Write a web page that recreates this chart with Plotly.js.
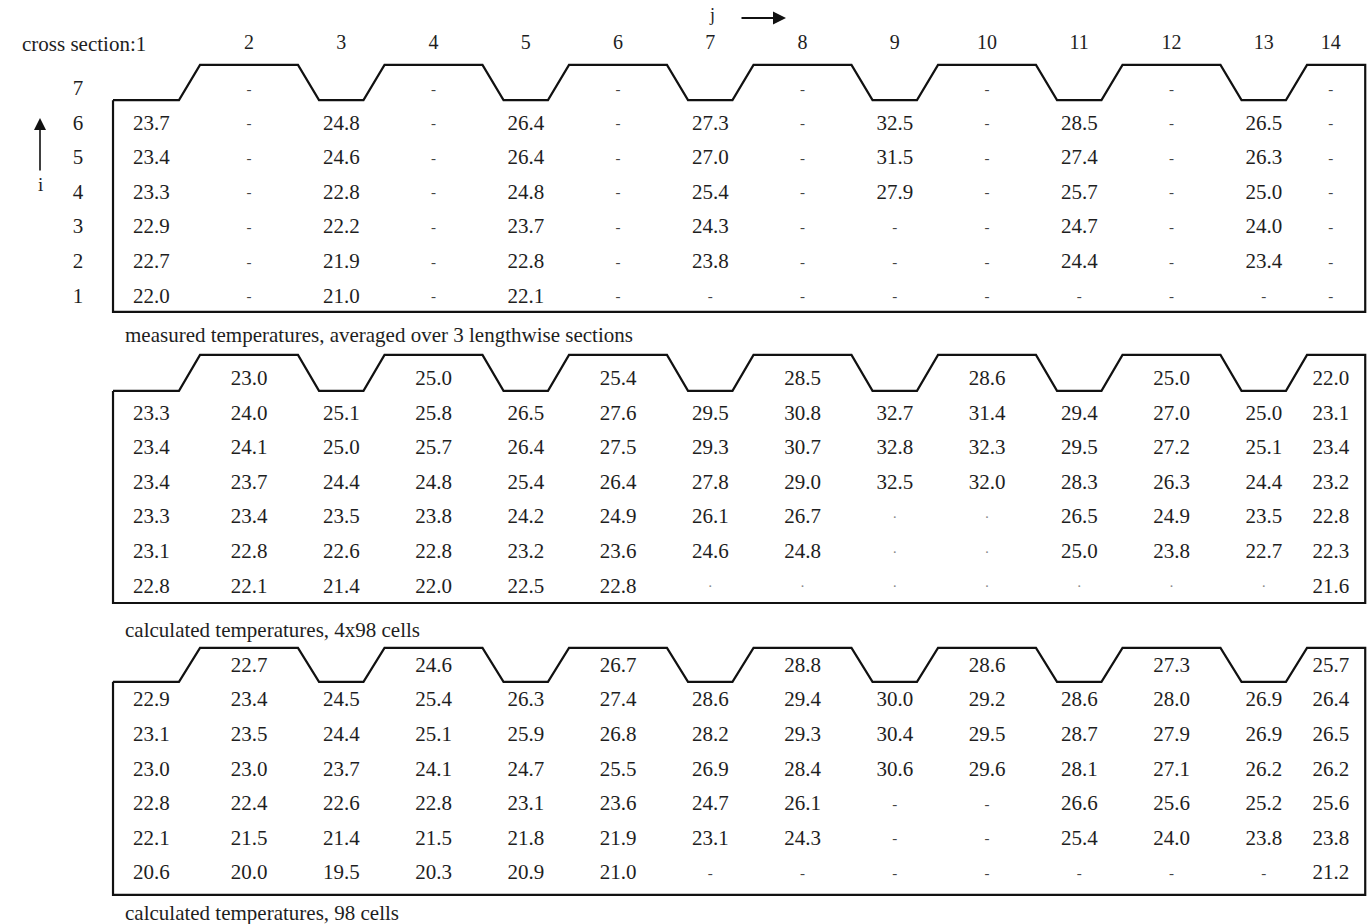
<!DOCTYPE html>
<html><head><meta charset="utf-8">
<script src="https://cdn.plot.ly/plotly-3.0.1.min.js"></script>
<style>html,body{margin:0;padding:0;background:#fff}</style>
</head><body><div id="chart" style="width:1372px;height:924px"></div>
<script>
// ---------------- DATA ----------------
const crossSections = [1,2,3,4,5,6,7,8,9,10,11,12,13,14];
const rowLabels = [7,6,5,4,3,2,1];
const captions = [
  "measured temperatures, averaged over 3 lengthwise sections",
  "calculated temperatures, 4x98 cells",
  "calculated temperatures, 98 cells"
];
// rows from i=7 (top) to i=1 (bottom); null = outside section, "-" = no value
const measured = [
  [null,"-",null,"-",null,"-",null,"-",null,"-",null,"-",null,"-"],
  [23.7,"-",24.8,"-",26.4,"-",27.3,"-",32.5,"-",28.5,"-",26.5,"-"],
  [23.4,"-",24.6,"-",26.4,"-",27.0,"-",31.5,"-",27.4,"-",26.3,"-"],
  [23.3,"-",22.8,"-",24.8,"-",25.4,"-",27.9,"-",25.7,"-",25.0,"-"],
  [22.9,"-",22.2,"-",23.7,"-",24.3,"-","-","-",24.7,"-",24.0,"-"],
  [22.7,"-",21.9,"-",22.8,"-",23.8,"-","-","-",24.4,"-",23.4,"-"],
  [22.0,"-",21.0,"-",22.1,"-","-","-","-","-","-","-","-","-"]
];
const calc4x98 = [
  [null,23.0,null,25.0,null,25.4,null,28.5,null,28.6,null,25.0,null,22.0],
  [23.3,24.0,25.1,25.8,26.5,27.6,29.5,30.8,32.7,31.4,29.4,27.0,25.0,23.1],
  [23.4,24.1,25.0,25.7,26.4,27.5,29.3,30.7,32.8,32.3,29.5,27.2,25.1,23.4],
  [23.4,23.7,24.4,24.8,25.4,26.4,27.8,29.0,32.5,32.0,28.3,26.3,24.4,23.2],
  [23.3,23.4,23.5,23.8,24.2,24.9,26.1,26.7,"-","-",26.5,24.9,23.5,22.8],
  [23.1,22.8,22.6,22.8,23.2,23.6,24.6,24.8,"-","-",25.0,23.8,22.7,22.3],
  [22.8,22.1,21.4,22.0,22.5,22.8,"-","-","-","-","-","-","-",21.6]
];
const calc98 = [
  [null,22.7,null,24.6,null,26.7,null,28.8,null,28.6,null,27.3,null,25.7],
  [22.9,23.4,24.5,25.4,26.3,27.4,28.6,29.4,30.0,29.2,28.6,28.0,26.9,26.4],
  [23.1,23.5,24.4,25.1,25.9,26.8,28.2,29.3,30.4,29.5,28.7,27.9,26.9,26.5],
  [23.0,23.0,23.7,24.1,24.7,25.5,26.9,28.4,30.6,29.6,28.1,27.1,26.2,26.2],
  [22.8,22.4,22.6,22.8,23.1,23.6,24.7,26.1,"-","-",26.6,25.6,25.2,25.6],
  [22.1,21.5,21.4,21.5,21.8,21.9,23.1,24.3,"-","-",25.4,24.0,23.8,23.8],
  [20.6,20.0,19.5,20.3,20.9,21.0,"-","-","-","-","-","-","-",21.2]
];

// ---------------- STYLE / GEOMETRY ----------------
const FONT = "Liberation Serif, 'DejaVu Serif', serif";
const INK = "#1e1e1e";
const G = {pxPerCol:92.25, col2Px:249, pxPerRow:34.6, W:1372, H:924,
           left:0.526, right:14.10, crestHalf:0.531, troughHalf:0.241};
const slopeW = 1 - G.crestHalf - G.troughHalf;
const PANELS = [
  {data:measured, off:17.11, crest:7.72, trough:6.70, bottom:0.58, mark:"-", markSize:15, markColor:"#444", capY:17.02},
  {data:calc4x98, off:8.728, crest:7.72, trough:6.68, bottom:0.55, mark:"·", markSize:15, markColor:"#888", capY:8.50},
  {data:calc98,   off:0.439, crest:7.54, trough:6.56, bottom:0.40, mark:"-", markSize:15, markColor:"#444", capY:0.32}
];
const xOfPx = px => 2 + (px - G.col2Px) / G.pxPerCol;
const yOfPx = py => (G.H - py) / G.pxPerRow;
const n = crossSections.length;
function colX(j){
  if (j === 1) return (G.left + 1 + G.troughHalf + slopeW/2) / 2;
  if (j === n) return (n - 1 + G.troughHalf + slopeW/2 + G.right) / 2;
  return j;
}
function outline(p){
  const xs=[], ys=[];
  const T=p.off+p.trough, C=p.off+p.crest, B=p.off+p.bottom;
  xs.push(G.left); ys.push(T);
  for (let j=1; j<n; j+=2){
    xs.push(j+G.troughHalf); ys.push(T);
    xs.push(j+1-G.crestHalf); ys.push(C);
    if (j+1 < n){
      xs.push(j+1+G.crestHalf); ys.push(C);
      xs.push(j+2-G.troughHalf); ys.push(T);
    }
  }
  xs.push(G.right); ys.push(C);
  xs.push(G.right); ys.push(B);
  xs.push(G.left); ys.push(B);
  xs.push(G.left); ys.push(T);
  return {x:xs, y:ys, mode:"lines", line:{color:"#111", width:2.2}, hoverinfo:"skip"};
}

const traces = [];
PANELS.forEach(p => {
  traces.push(outline(p));
  const vx=[],vy=[],vt=[],mx=[],my=[],mt=[];
  p.data.forEach((row, r) => {
    const i = rowLabels[r];
    row.forEach((v, c) => {
      const j = crossSections[c];
      if (typeof v === "number"){ vx.push(colX(j)); vy.push(p.off+i); vt.push(v.toFixed(1)); }
      else if (v === "-"){ mx.push(colX(j)); my.push(p.off+i); mt.push(p.mark); }
    });
  });
  traces.push({x:vx, y:vy, text:vt, mode:"text", textposition:"middle center",
    textfont:{family:FONT, size:21, color:INK}, hoverinfo:"skip", cliponaxis:false});
  traces.push({x:mx, y:my, text:mt, mode:"text", textposition:"middle center",
    textfont:{family:FONT, size:p.markSize, color:p.markColor}, hoverinfo:"skip", cliponaxis:false});
});
// row labels (first panel)
traces.push({x:rowLabels.map(()=>xOfPx(78)), y:rowLabels.map(i=>PANELS[0].off+i),
  text:rowLabels.map(String), mode:"text", textposition:"middle center",
  textfont:{family:FONT, size:21, color:INK}, hoverinfo:"skip", cliponaxis:false});
// cross-section header numbers 2..14
const hdr = crossSections.slice(1);
traces.push({x:hdr.map(colX), y:hdr.map(()=>yOfPx(44)), text:hdr.map(String), mode:"text",
  textposition:"middle center", textfont:{family:FONT, size:20, color:INK}, hoverinfo:"skip", cliponaxis:false});

const annotations = [
  {x:xOfPx(148), y:yOfPx(44), xref:"x", yref:"y", text:"cross section:" + crossSections[0],
   showarrow:false, xanchor:"right", yanchor:"middle", font:{family:FONT, size:21, color:INK}},
  {x:xOfPx(712), y:yOfPx(15), xref:"x", yref:"y", text:"j", showarrow:false,
   xanchor:"center", yanchor:"middle", font:{family:FONT, size:18, color:INK}},
  {x:xOfPx(786), y:yOfPx(18), ax:xOfPx(740), ay:yOfPx(18), xref:"x", yref:"y", axref:"x", ayref:"y",
   text:"", showarrow:true, arrowhead:2, arrowsize:1.3, arrowwidth:2, arrowcolor:"#111"},
  {x:xOfPx(40), y:yOfPx(118), ax:xOfPx(40), ay:yOfPx(172), xref:"x", yref:"y", axref:"x", ayref:"y",
   text:"", showarrow:true, arrowhead:2, arrowsize:1.5, arrowwidth:1.6, arrowcolor:"#111"},
  {x:xOfPx(40), y:yOfPx(184), xref:"x", yref:"y", text:"i", showarrow:false,
   xanchor:"center", yanchor:"middle", font:{family:FONT, size:19, color:INK}}
];
PANELS.forEach((p, k) => annotations.push({
  x:xOfPx(123), y:p.capY, xref:"x", yref:"y", text:captions[k], showarrow:false,
  xanchor:"left", yanchor:"middle", font:{family:FONT, size:21, color:INK}}));

const layout = {
  width:G.W, height:G.H, margin:{l:0,r:0,t:0,b:0}, showlegend:false,
  paper_bgcolor:"#fff", plot_bgcolor:"#fff",
  xaxis:{range:[xOfPx(0), xOfPx(G.W)], visible:false, fixedrange:true},
  yaxis:{range:[0, G.H/G.pxPerRow], visible:false, fixedrange:true},
  annotations:annotations
};
Plotly.newPlot("chart", traces, layout, {staticPlot:true, displayModeBar:false});
</script></body></html>
